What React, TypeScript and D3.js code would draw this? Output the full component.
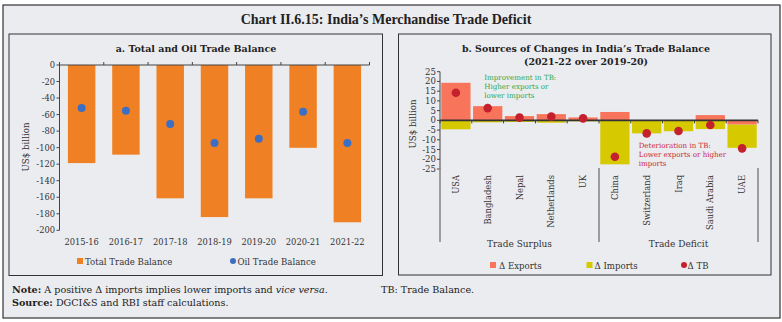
import React from "react";
import * as d3 from "d3";

// ---------- Data ----------
const years = ["2015-16", "2016-17", "2017-18", "2018-19", "2019-20", "2020-21", "2021-22"];
const totalTB = [-118.7, -108.5, -161.3, -184.0, -161.3, -100.2, -190.3];
const oilTB = [-52.0, -55.3, -71.4, -94.4, -89.1, -56.5, -94.4];
const yTicksA = [0, -20, -40, -60, -80, -100, -120, -140, -160, -180, -200];

const countries = ["USA", "Bangladesh", "Nepal", "Netherlands", "UK", "China", "Switzerland", "Iraq", "Saudi Arabia", "UAE"];
const dExports = [19.3, 7.3, 2.2, 3.2, 1.5, 4.3, 0.0, 0.0, 2.7, -2.2];
const dImports = [-4.6, -1.0, -0.8, -1.2, -0.5, -22.6, -6.7, -5.6, -4.5, -11.9];
const dTB = [14.2, 6.3, 1.4, 2.0, 1.0, -18.7, -6.7, -5.5, -2.4, -14.4];
const yTicksB = [25, 20, 15, 10, 5, 0, -5, -10, -15, -20, -25];
const groups = [
  { label: "Trade Surplus", from: "USA", to: "UK" },
  { label: "Trade Deficit", from: "China", to: "UAE" },
];

// ---------- Styles ----------
const BG = "#ebecf0";
const ORANGE = "#f08024";
const BLUE = "#3c6fc3";
const EXP = "#f8755c";
const IMP = "#d6c900";
const TBC = "#c5202e";
const FONT = "'DejaVu Serif', serif";

export default function App() {
  // Panel a scales
  const xA = d3.scaleBand<string>().domain(years).range([59.5, 369.5]).paddingInner(0.38).paddingOuter(0.19);
  const yA = d3.scaleLinear().domain([-200, 0]).range([230.3, 65]);

  // Panel b scales
  const xB = d3.scaleBand<string>().domain(countries).range([440, 758]).paddingInner(0.08).paddingOuter(0.04);
  const yB = d3.scaleLinear().domain([-25, 25]).range([169, 71.7]);
  const rows = countries.map((c, i) => ({ c, exp: dExports[i], imp: dImports[i] }));
  const stack = d3.stack<any>().keys(["exp", "imp"]).offset(d3.stackOffsetDiverging);
  const series = stack(rows);
  const colB: Record<string, string> = { exp: EXP, imp: IMP };

  const stepA = xA.step();
  const boundsA = years.map((y) => (xA(y) as number) - (stepA * 0.38) / 2).concat([369.5]);
  const stepB = xB.step();
  const boundsB = countries.map((c) => (xB(c) as number) - (stepB * 0.08) / 2).concat([758]);

  return (
    <div style={{ position: "fixed", left: 0, top: 0 }}>
      <svg width={782} height={322} style={{ display: "block", background: "#fff" }} fontFamily={FONT}>
        <rect x={3} y={5} width={777} height={313} fill={BG} stroke="#333" strokeWidth={1.2} />
        <text x={386} y={24} textAnchor="middle" fontFamily="'Liberation Serif', serif" fontWeight="bold" fontSize={14} fill="#222">
          Chart II.6.15: India’s Merchandise Trade Deficit
        </text>

        {/* Panel a */}
        <rect x={9} y={34} width={373.5} height={241.5} fill={BG} stroke="#333" strokeWidth={1} />
        <text x={196} y={51.5} textAnchor="middle" fontWeight="bold" fontSize={9.5} fill="#222">
          a. Total and Oil Trade Balance
        </text>
        {years.map((y, i) => (
          <rect key={y} x={xA(y)} y={yA(0)} width={xA.bandwidth()} height={yA(totalTB[i]) - yA(0)} fill={ORANGE} />
        ))}
        {years.map((y, i) => (
          <circle key={y} cx={(xA(y) as number) + xA.bandwidth() / 2} cy={yA(oilTB[i])} r={4} fill={BLUE} />
        ))}
        <line x1={59.5} x2={59.5} y1={yA(0)} y2={yA(-200)} stroke="#444" strokeWidth={1} />
        <line x1={59.5} x2={369.5} y1={yA(0)} y2={yA(0)} stroke="#444" strokeWidth={1} />
        {boundsA.map((b, i) => (
          <line key={i} x1={b} x2={b} y1={yA(0) - 3} y2={yA(0)} stroke="#444" strokeWidth={1} />
        ))}
        {yTicksA.map((t) => (
          <g key={t}>
            <line x1={56.5} x2={59.5} y1={yA(t)} y2={yA(t)} stroke="#444" />
            <text x={55} y={yA(t) + 3} textAnchor="end" fontSize={8.3} fill="#333">
              {t}
            </text>
          </g>
        ))}
        {years.map((y) => (
          <text key={y} x={(xA(y) as number) + xA.bandwidth() / 2} y={245} textAnchor="middle" fontSize={8.3} fill="#333">
            {y}
          </text>
        ))}
        <text transform="translate(29,147) rotate(-90)" textAnchor="middle" fontSize={8.7} fill="#333">
          US$ billion
        </text>
        <rect x={77} y={258} width={6} height={6} fill={ORANGE} />
        <text x={85} y={264.5} fontSize={8.6} fill="#333">Total Trade Balance</text>
        <circle cx={233} cy={261} r={3} fill={BLUE} />
        <text x={237.5} y={264.5} fontSize={8.6} fill="#333">Oil Trade Balance</text>

        {/* Panel b */}
        <rect x={398.5} y={34} width={372.5} height={241} fill={BG} stroke="#333" strokeWidth={1} />
        <text x={586} y={51.5} textAnchor="middle" fontWeight="bold" fontSize={9.4} fill="#222">
          b. Sources of Changes in India’s Trade Balance
        </text>
        <text x={586} y={65} textAnchor="middle" fontWeight="bold" fontSize={9.4} fill="#222">
          (2021-22 over 2019-20)
        </text>
        {series.map((s) =>
          s.map((d, i) => (
            <rect
              key={s.key + i}
              x={xB(countries[i])}
              y={yB(Math.max(d[0], d[1]))}
              width={xB.bandwidth()}
              height={Math.abs(yB(d[0]) - yB(d[1]))}
              fill={colB[s.key]}
            />
          ))
        )}
        <line x1={440} x2={758} y1={yB(0)} y2={yB(0)} stroke="#333" strokeWidth={1.8} />
        {boundsB.map((b, i) => (
          <line key={i} x1={b} x2={b} y1={yB(0)} y2={yB(0) + 3} stroke="#333" strokeWidth={1} />
        ))}
        {countries.map((c, i) => (
          <circle key={c} cx={(xB(c) as number) + xB.bandwidth() / 2} cy={yB(dTB[i])} r={4.3} fill={TBC} />
        ))}
        <line x1={440} x2={440} y1={yB(25)} y2={yB(-25)} stroke="#444" strokeWidth={1} />
        {yTicksB.map((t) => (
          <g key={t}>
            <line x1={437} x2={440} y1={yB(t)} y2={yB(t)} stroke="#444" />
            <text x={436} y={yB(t) + 3} textAnchor="end" fontSize={8.6} fill="#333">
              {t}
            </text>
          </g>
        ))}
        <text transform="translate(416,124) rotate(-90)" textAnchor="middle" fontSize={8.7} fill="#333">
          US$ billion
        </text>
        {countries.map((c) => (
          <text
            key={c}
            transform={`translate(${(xB(c) as number) + xB.bandwidth() / 2 + 3},175) rotate(-90)`}
            textAnchor="end"
            fontSize={8.4}
            fill="#333"
          >
            {c}
          </text>
        ))}
        {[440, 599, 758].map((x) => (
          <line key={x} x1={x} x2={x} y1={168} y2={242} stroke="#8a8a8a" strokeWidth={1.6} />
        ))}
        {groups.map((g) => {
          const x0 = xB(g.from) as number;
          const x1 = (xB(g.to) as number) + xB.bandwidth();
          return (
            <text key={g.label} x={(x0 + x1) / 2} y={247} textAnchor="middle" fontSize={9} fill="#333">
              {g.label}
            </text>
          );
        })}
        <g fontSize={7.1} fill="#2ea84f">
          <text x={484.3} y={80.2}>Improvement in TB:</text>
          <text x={484.3} y={88.9}>Higher exports or</text>
          <text x={484.3} y={97.6}>lower imports</text>
        </g>
        <g fontSize={7.1} fill="#c8283a">
          <text x={638.7} y={147.5}>Deterioration in TB:</text>
          <text x={638.7} y={156.5}>Lower exports or higher</text>
          <text x={638.7} y={165.5}>imports</text>
        </g>
        <rect x={490} y={262} width={6} height={6} fill={EXP} />
        <text x={499} y={268.5} fontSize={8.6} fill="#333">Δ Exports</text>
        <rect x={586.5} y={262} width={6} height={6} fill={IMP} />
        <text x={594.5} y={268.5} fontSize={8.6} fill="#333">Δ Imports</text>
        <circle cx={684} cy={265} r={3} fill={TBC} />
        <text x={687.5} y={268.5} fontSize={8.6} fill="#333">Δ TB</text>

        {/* Notes */}
        <text x={12} y={293} fontSize={9.6} fill="#222">
          <tspan fontWeight="bold">Note:</tspan>
          <tspan>{"  A positive Δ imports implies lower imports and "}</tspan>
          <tspan fontStyle="italic">vice versa</tspan>
          <tspan>.</tspan>
        </text>
        <text x={381} y={293} fontSize={9.6} fill="#222">TB: Trade Balance.</text>
        <text x={12} y={305.5} fontSize={9.6} fill="#222">
          <tspan fontWeight="bold">Source:</tspan>
          <tspan> DGCI&amp;S and RBI staff calculations.</tspan>
        </text>
      </svg>
    </div>
  );
}
